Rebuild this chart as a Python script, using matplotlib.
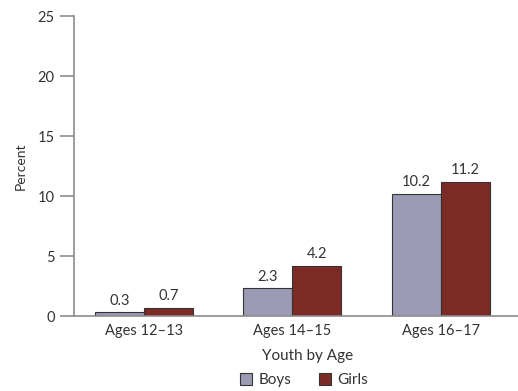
import numpy as np
import matplotlib
matplotlib.use("Agg")
import matplotlib.pyplot as plt

plt.rcParams['font.family'] = ['Lato', 'DejaVu Sans']

groups = ["Ages 12\u201313", "Ages 14\u201315", "Ages 16\u201317"]
boys = [0.3, 2.3, 10.2]
girls = [0.7, 4.2, 11.2]

fig = plt.figure(figsize=(5.18, 3.91), dpi=100)
ax = fig.add_axes([0.1429, 0.1918, 0.8571, 0.767])

x = np.arange(len(groups))
w = 0.33
b1 = ax.bar(x - w / 2, boys, w, color="#9a9ab4", edgecolor="#333333", linewidth=0.8, label="Boys")
b2 = ax.bar(x + w / 2, girls, w, color="#7b2a26", edgecolor="#333333", linewidth=0.8, label="Girls")

for bars, vals in ((b1, boys), (b2, girls)):
    for r, v in zip(bars, vals):
        ax.text(r.get_x() + r.get_width() / 2, v + 0.35, f"{v}",
                ha="center", va="bottom", fontsize=10.5, color="#333333")

ax.set_xlim(-0.471, 2.52)
ax.set_ylim(0, 25)
ax.set_yticks(range(0, 26, 5))
ax.set_xticks(x)
ax.set_xticklabels(groups)

for s in ("top", "right"):
    ax.spines[s].set_visible(False)
for s in ("left", "bottom"):
    ax.spines[s].set_color("#8c8c8c")
    ax.spines[s].set_linewidth(1.2)

ax.tick_params(axis="y", length=10, width=1.2, color="#8c8c8c", labelsize=10.5, labelcolor="#333333", pad=4)
ax.tick_params(axis="x", length=0, labelsize=10.5, labelcolor="#333333", pad=6)

ax.set_ylabel("Percent", fontsize=10, color="#333333", labelpad=8)
ax.set_xlabel("Youth by Age", fontsize=11, color="#333333", va="center")
ax.xaxis.set_label_coords(0.525, (0.0895 - 0.1918) / 0.767)

fig.legend(handles=[b1, b2], loc="center", bbox_to_anchor=(304 / 518, 0.028), ncol=2,
           frameon=False, fontsize=11, handlelength=0.8, handleheight=0.8,
           columnspacing=1.8, handletextpad=0.4, labelcolor="#333333",
           borderpad=0, borderaxespad=0)

fig.savefig("out.png", dpi=100)
